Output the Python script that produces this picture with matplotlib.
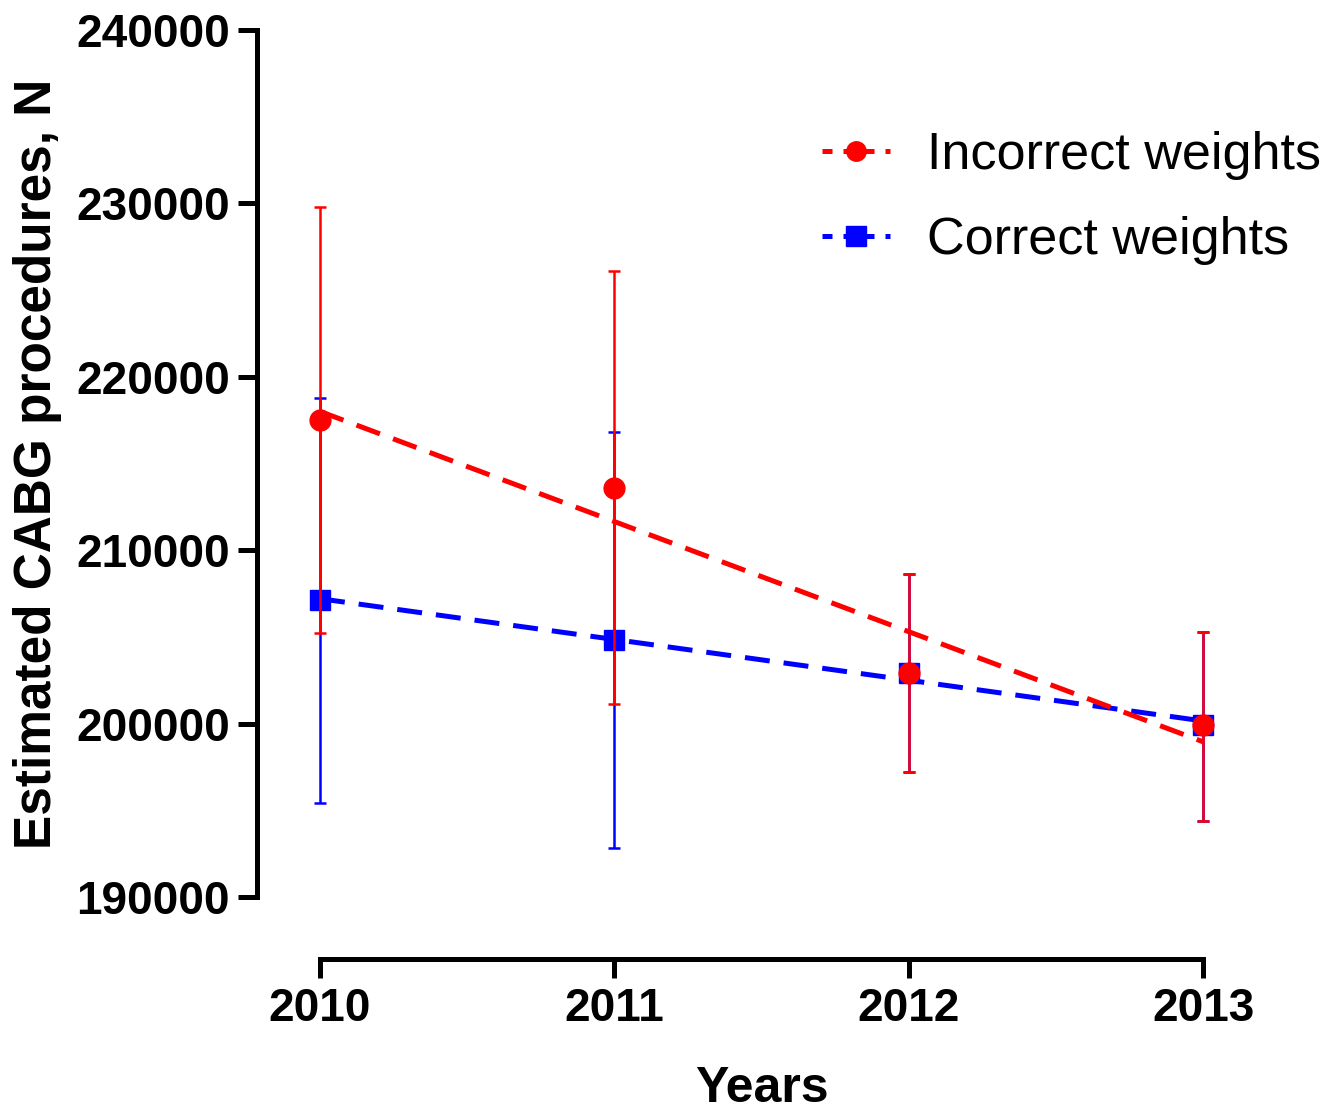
import numpy as np
import matplotlib
matplotlib.use("Agg")
import matplotlib.pyplot as plt
from matplotlib.lines import Line2D

plt.rcParams['font.family'] = ['Liberation Sans', 'DejaVu Sans']

years = [2010, 2011, 2012, 2013]

# incorrect weights (red)
inc_mean = [217500, 213600, 202900, 199900]
inc_low = [205200, 201100, 197200, 194400]
inc_high = [229800, 226100, 208600, 205300]

# correct weights (blue)
cor_mean = [207100, 204800, 202900, 199900]
cor_low = [195400, 192800, 197200, 194400]
cor_high = [218800, 216800, 208600, 205300]

red = '#ff0000'
blue = '#0000ff'
dash = (0, (5, 2.8))

fig = plt.figure(figsize=(13.4, 11.13), dpi=100)
ax = fig.add_axes([0.2388, 0.1941, 0.659, 0.779])

x = np.array(years)

def draw(mean, low, high, color, marker, z):
    mean = np.array(mean)
    yerr = [mean - np.array(low), np.array(high) - mean]
    ax.errorbar(x, mean, yerr=yerr, fmt='none', ecolor=color, elinewidth=1.8,
                capsize=4.5, capthick=1.8, zorder=z, clip_on=False)
    # linear fit line
    k, b = np.polyfit(x - 2010, mean, 1)
    ax.plot(x, k * (x - 2010) + b, color=color, lw=3.6, ls=dash,
            zorder=z + 0.5, clip_on=False)
    ax.plot(x, mean, ls='none', marker=marker, ms=15, color=color,
            zorder=z + 1, clip_on=False)

draw(cor_mean, cor_low, cor_high, blue, 's', 2)
draw(inc_mean, inc_low, inc_high, red, 'o', 5)

ax.set_xlim(2010, 2013)
ax.set_ylim(190000, 240000)
ax.set_xticks(years)
ax.set_yticks(np.arange(190000, 240001, 10000))

for s in ['top', 'right']:
    ax.spines[s].set_visible(False)
for s in ['left', 'bottom']:
    ax.spines[s].set_linewidth(3.6)
    ax.spines[s].set_position(('outward', 45))

ax.tick_params(width=3.6, length=14, labelsize=33, pad=6)
for lab in ax.get_xticklabels() + ax.get_yticklabels():
    lab.set_fontweight('bold')

ax.set_xlabel('Years', fontsize=36, fontweight='bold', labelpad=25)
ax.set_ylabel('Estimated CABG procedures, N', fontsize=37, fontweight='bold', labelpad=10)

handles = [
    Line2D([], [], color=red, lw=3.6, ls=(0, (2, 2.2)), marker='o', ms=14),
    Line2D([], [], color=blue, lw=3.6, ls=(0, (2, 2.2)), marker='s', ms=14),
]
fig.legend(handles, ['Incorrect weights', 'Correct weights'], loc='upper left',
           bbox_to_anchor=(0.598, 0.901), frameon=False, fontsize=37.5,
           handlelength=1.3, handletextpad=0.72, labelspacing=0.7, borderaxespad=0)

fig.savefig('out.png', dpi=100)
